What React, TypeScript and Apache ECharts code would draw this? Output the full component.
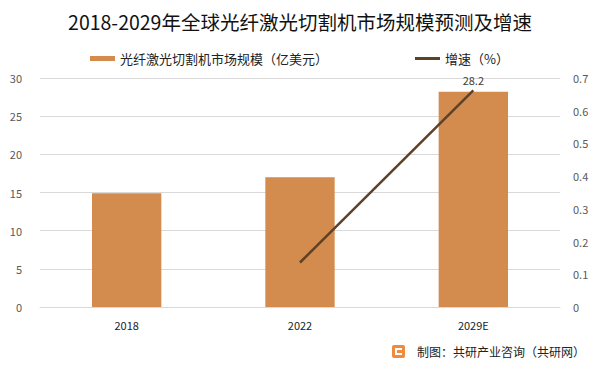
import React, { useEffect, useRef } from "react";
import * as echarts from "echarts";

const categories = ["2018", "2022", "2029E"];
const marketSize = [14.9, 17.0, 28.2];
const growthRate: (number | null)[] = [null, 0.136, 0.662];
const leftTicks = { min: 0, max: 30, interval: 5 };
const rightTicks = { min: 0, max: 0.7, interval: 0.1 };

const FONT = "'Noto Sans CJK SC', 'Noto Sans', sans-serif";

export default function App() {
  const ref = useRef<HTMLDivElement>(null);
  useEffect(() => {
    document.body.style.margin = "0";
    if (!ref.current) return;
    const chart = echarts.init(ref.current, undefined, { renderer: "svg" });
    chart.setOption({
      animation: false,
      backgroundColor: "#ffffff",
      textStyle: { fontFamily: FONT },
      title: {
        text: "2018-2029年全球光纤激光切割机市场规模预测及增速",
        left: "center",
        top: 7,
        textStyle: { fontSize: 19.5, fontWeight: "normal", color: "#111", fontFamily: FONT },
      },
      legend: {
        top: 47,
        left: 85,
        itemGap: 87,
        itemWidth: 25,
        itemHeight: 5,
        textStyle: { fontSize: 13, color: "#222", fontFamily: FONT },
        data: [
          { name: "光纤激光切割机市场规模（亿美元）", icon: "rect" },
          { name: "增速（%）", icon: "path://M0,0H25V3H0Z", itemStyle: { color: "#5e4129" } },
        ],
      },
      grid: { left: 40, right: 40, top: 78, bottom: 65 },
      xAxis: {
        type: "category",
        data: categories,
        axisLine: { lineStyle: { color: "#d9d9d9" } },
        axisTick: { show: false },
        axisLabel: { color: "#222", fontSize: 11, margin: 12 },
      },
      yAxis: [
        {
          type: "value",
          ...leftTicks,
          axisLine: { show: false },
          axisTick: { show: false },
          splitLine: { lineStyle: { color: "#d9d9d9" } },
          axisLabel: { color: "#595959", fontSize: 11, margin: 18 },
        },
        {
          type: "value",
          ...rightTicks,
          axisLine: { show: false },
          axisTick: { show: false },
          splitLine: { show: false },
          axisLabel: { color: "#595959", fontSize: 11, margin: 13 },
        },
      ],
      series: [
        {
          name: "光纤激光切割机市场规模（亿美元）",
          type: "bar",
          data: marketSize,
          barWidth: "40%",
          itemStyle: { color: "#d38b4e" },
          label: {
            show: true,
            position: "top",
            color: "#404040",
            fontSize: 11,
            distance: 6,
            formatter: (p: any) => (p.dataIndex === 2 ? String(p.value) : ""),
          },
        },
        {
          name: "增速（%）",
          type: "line",
          yAxisIndex: 1,
          data: growthRate,
          symbol: "none",
          lineStyle: { color: "#5e4129", width: 2.5 },
          itemStyle: { color: "#5e4129" },
        },
      ],
      graphic: [
        {
          type: "group",
          left: 392,
          top: 345,
          children: [
            { type: "rect", shape: { x: 0, y: 0, width: 13, height: 13, r: 2 }, style: { fill: "#f08a3c" } },
            { type: "rect", shape: { x: 3, y: 3, width: 7, height: 2 }, style: { fill: "#fff" } },
            { type: "rect", shape: { x: 3, y: 3, width: 2, height: 7 }, style: { fill: "#fff" } },
            { type: "rect", shape: { x: 3, y: 8, width: 7, height: 2 }, style: { fill: "#fff" } },
          ],
        },
        {
          type: "text",
          left: 417,
          top: 345,
          style: { text: "制图：共研产业咨询（共研网）", fontSize: 12, fill: "#222", fontFamily: FONT },
        },
      ],
    });
    return () => chart.dispose();
  }, []);
  return <div ref={ref} style={{ width: 600, height: 372 }} />;
}
